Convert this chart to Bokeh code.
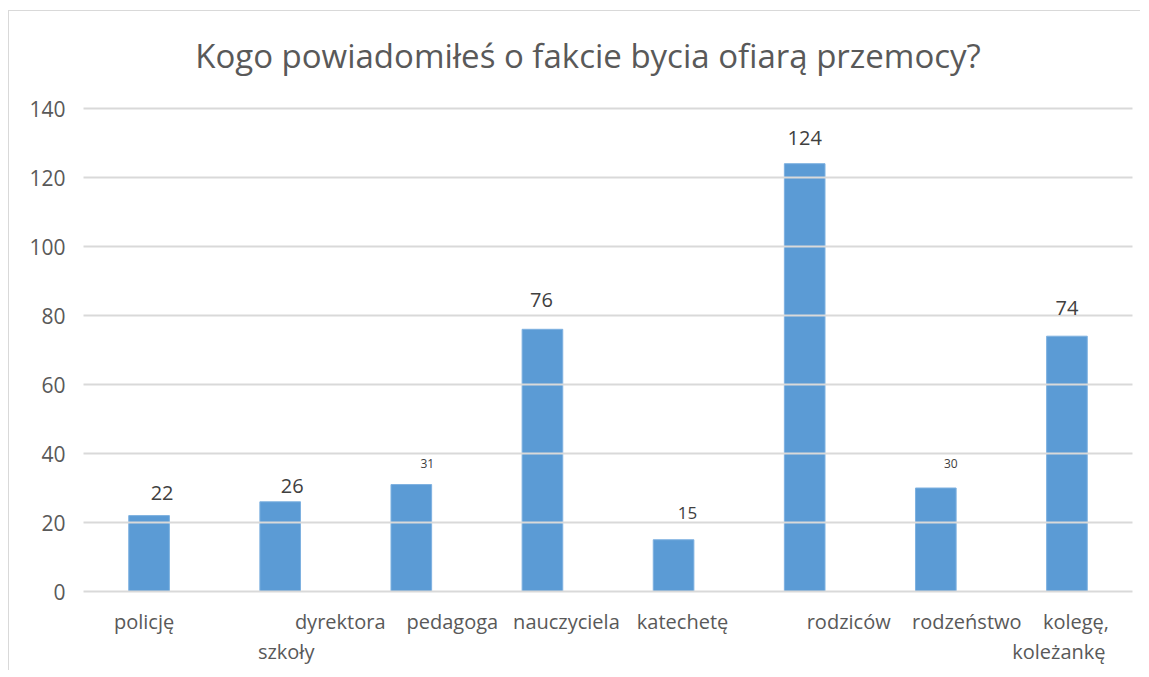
from bokeh.plotting import figure
from bokeh.models import ColumnDataSource, LabelSet, Label, Range1d, FactorRange, FixedTicker
from bokeh.core.properties import value
from bokeh.embed import file_html
from bokeh.resources import INLINE

# ---- data ----
categories = ["policję", "dyrektora szkoły", "pedagoga", "nauczyciela",
              "katechetę", "rodziców", "rodzeństwo", "kolegę, koleżankę"]
values = [22, 26, 31, 76, 15, 124, 30, 74]
label_line1 = ["policję", "dyrektora", "pedagoga", "nauczyciela",
               "katechetę", "rodziców", "rodzeństwo", "kolegę,"]
label_line2 = ["", "szkoły", "", "", "", "", "", "koleżankę"]
y_ticks = [0, 20, 40, 60, 80, 100, 120, 140]
title_text = "Kogo powiadomiłeś o fakcie bycia ofiarą przemocy?"

# ---- styles (pixel offsets / sizes of labels, as in the original) ----
value_font = ["20px", "20px", "12px", "20px", "17px", "20px", "12px", "20px"]
value_dx = [13, 12, 16, -1, 14, 0, 15, 0]
value_dy = [23, 16, 21, 29, 27, 26, 25, 28]
line1_dx = [-5, 60, 41, 24, 9, 44, 31, 9]
line2_dx = [0, 6, 0, 0, 0, 0, 0, -8]

FONT = "Open Sans"
TXT = "#595959"

H = 660
GRID_TOP_PX = 97       # pixel row of the 140 line, from the figure top
ZERO_PX = 580          # pixel row of the 0 line
TITLE_PX = 44          # pixel row of the title's middle
Y_MAX = y_ticks[-1]
ppu = (ZERO_PX - GRID_TOP_PX) / Y_MAX
y_min = -(H - ZERO_PX) / ppu      # room inside the frame for the category labels
y_top = ZERO_PX / ppu             # room inside the frame for the title

p = figure(width=1132, height=H, x_range=FactorRange(*categories, range_padding=0),
           y_range=Range1d(y_min, y_top), output_backend="svg", toolbar_location=None,
           min_border_left=74, min_border_right=9, min_border_top=0, min_border_bottom=0)
p.styles = {"margin-left": "8px", "margin-top": "10px",
            "border-left": "1px solid #d9d9d9", "border-top": "1px solid #d9d9d9"}
p.outline_line_color = None
p.background_fill_color = "white"
p.border_fill_color = "white"

src = ColumnDataSource(dict(cat=categories, val=values, vtxt=[str(v) for v in values],
                            vfont=value_font, vdx=value_dx, vdy=value_dy,
                            l1=label_line1, l2=label_line2, l1dx=line1_dx, l2dx=line2_dx,
                            zero=[0] * len(values)))

p.vbar(x="cat", top="val", bottom=0, width=0.31, source=src, fill_color="#5B9BD5",
       line_color="#7eb1e0", line_width=1)

p.ygrid.ticker = FixedTicker(ticks=y_ticks)
p.ygrid.grid_line_color = "#d9d9d9"
p.ygrid.grid_line_width = 2
p.ygrid.level = "guide"
p.xgrid.grid_line_color = None

p.yaxis.ticker = FixedTicker(ticks=y_ticks)
p.yaxis.axis_line_color = None
p.yaxis.major_tick_line_color = None
p.yaxis.minor_tick_line_color = None
p.yaxis.major_label_text_font = FONT
p.yaxis.major_label_text_font_size = "21px"
p.yaxis.major_label_text_color = TXT
p.yaxis.major_label_standoff = 12

p.xaxis.visible = False

# title, centred over the whole chart
p.add_layout(Label(x=len(categories) / 2, y=(ZERO_PX - TITLE_PX) / ppu, x_offset=-20,
                   text=title_text, text_align="center", text_baseline="middle",
                   text_font=FONT, text_font_size="33px", text_color=TXT))

p.add_layout(LabelSet(x="cat", y="val", text="vtxt", source=src, x_offset="vdx", y_offset="vdy",
                      text_align="center", text_baseline="middle", text_font=value(FONT),
                      text_font_size="vfont", text_color="#404040"))
p.add_layout(LabelSet(x="cat", y="zero", text="l1", source=src, x_offset="l1dx", y_offset=-30,
                      text_align="center", text_baseline="middle", text_font=value(FONT),
                      text_font_size="20px", text_color=TXT))
p.add_layout(LabelSet(x="cat", y="zero", text="l2", source=src, x_offset="l2dx", y_offset=-60,
                      text_align="center", text_baseline="middle", text_font=value(FONT),
                      text_font_size="20px", text_color=TXT))

open("out.html", "w").write(file_html(p, INLINE))
